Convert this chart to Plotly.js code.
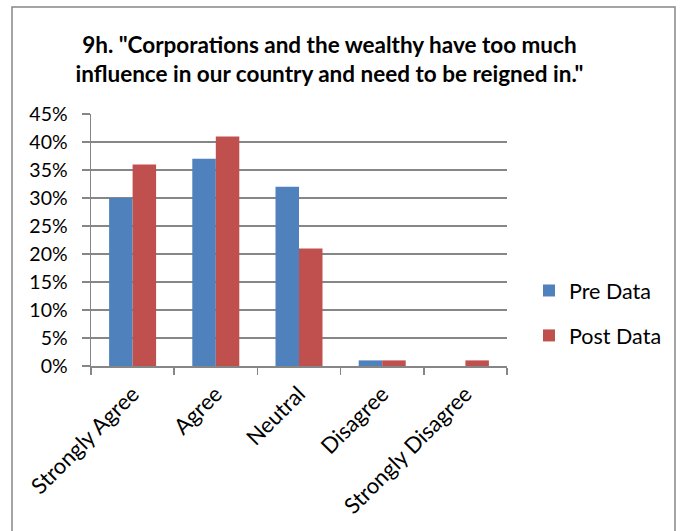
<!DOCTYPE html>
<html><head><meta charset="utf-8">
<script src="https://cdn.plot.ly/plotly-3.0.1.min.js"></script>
<style>body{margin:0;background:#fff}#chart{width:682px;height:531px}</style>
</head><body><div id="chart"></div>
<script>
const categories = ["Strongly Agree", "Agree", "Neutral", "Disagree", "Strongly Disagree"];
const preData = [0.30, 0.37, 0.32, 0.01, 0.00];
const postData = [0.36, 0.41, 0.21, 0.01, 0.01];
const yTicks = [0, 0.05, 0.10, 0.15, 0.20, 0.25, 0.30, 0.35, 0.40, 0.45];
const yTickLabels = ["0%", "5%", "10%", "15%", "20%", "25%", "30%", "35%", "40%", "45%"];

const FONT = "Lato, 'Open Sans', sans-serif";
const traces = [
  {type: "bar", name: "Pre Data", x: categories, y: preData, legendgroup: "a",
   marker: {color: "#4F81BD"}, hoverinfo: "x+y"},
  {type: "bar", name: "Post Data", x: categories, y: postData, legendgroup: "b",
   marker: {color: "#C0504D"}, hoverinfo: "x+y"}
];
const L = 91, R = 507, T = 114, B = 366;
const W = R - L, H = B - T;
const layout = {
  width: 682, height: 531,
  margin: {l: L, r: 682 - R, t: T, b: 531 - B, pad: 0},
  paper_bgcolor: "#fff", plot_bgcolor: "#fff",
  font: {family: FONT, color: "#000", size: 18},
  title: {text: "<b>9h. \"Corporations and the wealthy have too much<br>influence in our country and need to be reigned in.\"</b>",
          font: {family: FONT, size: 22.5, color: "#000"}, x: 0.483, xanchor: "center",
          y: 1 - 53 / 531, yanchor: "middle"},
  barmode: "group", bargap: 0.435, bargroupgap: 0,
  xaxis: {type: "category", showline: true, linecolor: "#868686", linewidth: 1.5,
          ticks: "outside", tickson: "boundaries", ticklen: 7, tickcolor: "#868686", tickwidth: 1.5,
          tickangle: -45, ticklabelstandoff: 5, tickfont: {family: FONT, size: 22, color: "#000"}, showgrid: false},
  yaxis: {range: [0, 0.45], tickvals: yTicks, ticktext: yTickLabels, showline: true,
          linecolor: "#868686", linewidth: 1.5, showgrid: true, gridcolor: "#868686", gridwidth: 1.5,
          ticks: "outside", ticklen: 8, tickcolor: "#868686", tickwidth: 1.5, ticklabelstandoff: 10,
          tickfont: {family: FONT, size: 19.5, color: "#000"}, zeroline: false},
  legend: {x: (529 - L) / W, xanchor: "left", y: (B - 313) / H, yanchor: "middle",
           font: {family: FONT, size: 21.5, color: "#000"}, tracegroupgap: 14, itemwidth: 30,
           bgcolor: "rgba(0,0,0,0)"},
  showlegend: true,
  shapes: [{type: "rect", xref: "paper", yref: "paper",
            x0: (12 - L) / W, x1: (675 - L) / W, y0: (B - 545) / H, y1: (B - 7) / H,
            line: {color: "#868686", width: 1.5}, fillcolor: "rgba(0,0,0,0)", layer: "below"}]
};
Plotly.newPlot("chart", traces, layout, {displayModeBar: false, staticPlot: true});
</script></body></html>
